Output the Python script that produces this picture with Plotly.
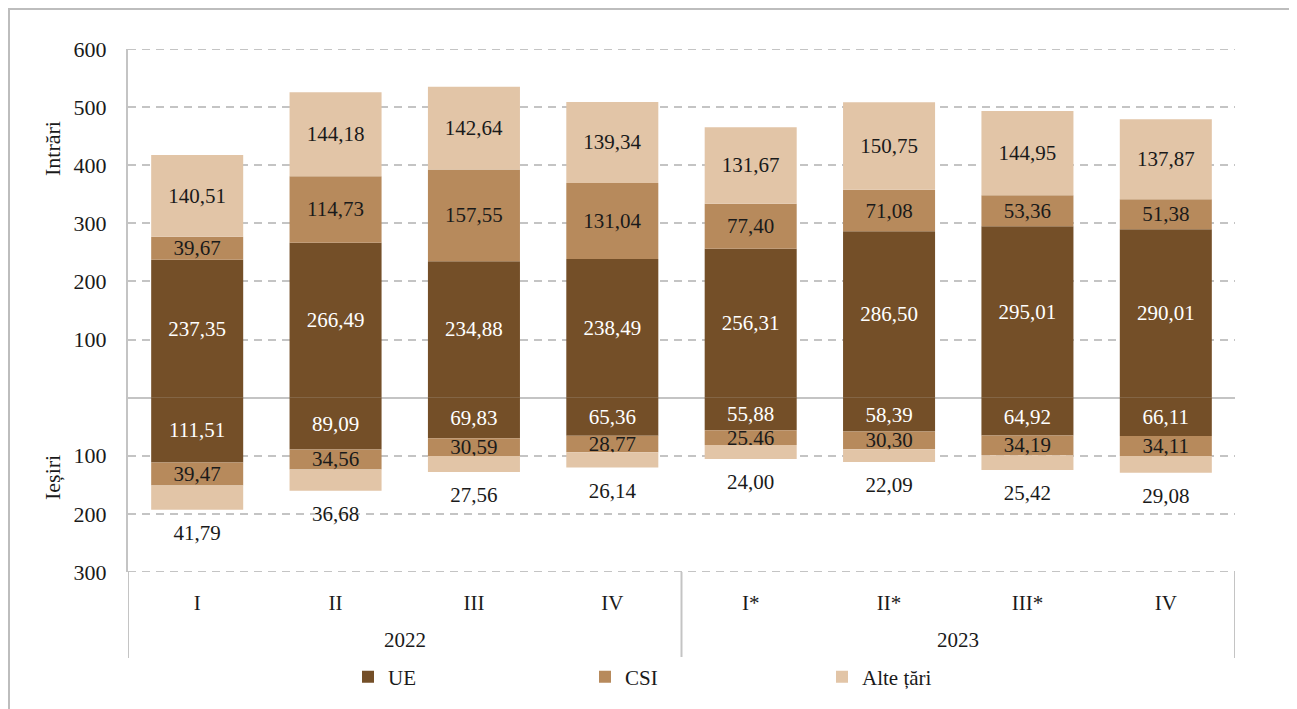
import plotly.graph_objects as go

years = ["2022", "2023"]
year_of_quarter = ["2022"] * 4 + ["2023"] * 4
quarters = ["I", "II", "III", "IV", "I*", "II*", "III*", "IV"]

ue_in = [237.35, 266.49, 234.88, 238.49, 256.31, 286.50, 295.01, 290.01]
csi_in = [39.67, 114.73, 157.55, 131.04, 77.40, 71.08, 53.36, 51.38]
alte_in = [140.51, 144.18, 142.64, 139.34, 131.67, 150.75, 144.95, 137.87]
ue_out = [111.51, 89.09, 69.83, 65.36, 55.88, 58.39, 64.92, 66.11]
csi_out = [39.47, 34.56, 30.59, 28.77, 25.46, 30.30, 34.19, 34.11]
alte_out = [41.79, 36.68, 27.56, 26.14, 24.00, 22.09, 25.42, 29.08]

y_range = [-300, 600]
tick_vals = [-300, -200, -100, 100, 200, 300, 400, 500, 600]
tick_text = ["300", "200", "100", "100", "200", "300", "400", "500", "600"]

C_UE = "#744f28"
C_CSI = "#b78a5c"
C_ALTE = "#e2c5a7"
GRID = "#c4c4c4"
FRAME = "#bdbdbd"
FONT = "Liberation Serif"
TXT = "#1a1a1a"
LBL = 21
DASH = "8px,6px"

def fmt(v):
    return f"{v:.2f}".replace(".", ",")

xpos = list(range(len(quarters)))
fig = go.Figure()

def add_bar(vals, sign, color, name, tcolor, showlegend, text=True):
    fig.add_trace(go.Bar(
        x=xpos, y=[sign * v for v in vals], name=name, marker_color=color,
        marker_line_width=0, showlegend=showlegend, legendgroup=name,
        text=[fmt(v) for v in vals] if text else None,
        textposition="inside" if text else "none",
        insidetextanchor="middle",
        textfont=dict(family=FONT, size=LBL, color=tcolor),
        hoverinfo="skip",
    ))

add_bar(ue_in, 1, C_UE, "UE", "white", True)
add_bar(csi_in, 1, C_CSI, "CSI", TXT, True)
add_bar(alte_in, 1, C_ALTE, "Alte țări", TXT, True)
add_bar(ue_out, -1, C_UE, "UE", "white", False)
add_bar(csi_out, -1, C_CSI, "CSI", TXT, False)
add_bar(alte_out, -1, C_ALTE, "Alte țări", TXT, False, text=False)

out_tot = [a + b + c for a, b, c in zip(ue_out, csi_out, alte_out)]
fig.add_trace(go.Scatter(
    x=xpos, y=[-(t + 43) for t in out_tot], mode="text",
    text=[fmt(v) for v in alte_out], textposition="middle center",
    textfont=dict(family=FONT, size=LBL, color=TXT),
    showlegend=False, hoverinfo="skip", cliponaxis=False,
))

# page body has an 8px margin; figure coordinates = screen - 8
W, H = 1289, 701
L, R, T, B = 120, 62, 41, 137
pw, ph = W - L - R, H - T - B

def px_x(p):
    return (p - L) / pw

def px_y(p):
    return (H - B - p) / ph

shapes = [
    dict(type="line", xref="paper", yref="paper", x0=px_x(0), x1=px_x(W), y0=px_y(1), y1=px_y(1),
         line=dict(color=FRAME, width=2)),
    dict(type="line", xref="paper", yref="paper", x0=px_x(1), x1=px_x(1), y0=px_y(1), y1=px_y(H),
         line=dict(color=FRAME, width=2)),
    dict(type="line", xref="paper", yref="paper", x0=px_x(1282), x1=px_x(1282), y0=px_y(1), y1=px_y(H),
         line=dict(color=FRAME, width=2)),
]
# gridlines at the two range ends (plotly omits them at the plot edge)
for yv in y_range:
    shapes.append(dict(type="line", xref="paper", yref="y", x0=0, x1=1, y0=yv, y1=yv,
                       line=dict(color=GRID, width=2, dash=DASH), layer="below"))
# group dividers below the x axis
for xv in [-0.5, 3.5, 7.5]:
    shapes.append(dict(type="line", xref="x", yref="paper", x0=xv, x1=xv, y0=0, y1=px_y(650),
                       line=dict(color=GRID, width=2)))

annotations = [
    dict(text="Intrări", xref="paper", yref="paper", x=px_x(44), y=px_y(141), textangle=-90,
         xanchor="center", yanchor="middle",
         showarrow=False, font=dict(family=FONT, size=22, color=TXT)),
    dict(text="Ieșiri", xref="paper", yref="paper", x=px_x(44), y=px_y(470), textangle=-90,
         xanchor="center", yanchor="middle",
         showarrow=False, font=dict(family=FONT, size=22, color=TXT)),
]
for i, yr in enumerate(years):
    idx = [k for k, q in enumerate(year_of_quarter) if q == yr]
    annotations.append(dict(text=yr, xref="x", yref="paper", x=sum(idx) / len(idx), y=px_y(632),
                            xanchor="center", yanchor="middle",
                            showarrow=False, font=dict(family=FONT, size=21, color=TXT)))

fig.update_layout(
    width=W, height=H,
    margin=dict(l=L, r=R, t=T, b=B),
    barmode="relative", bargap=0.335,
    plot_bgcolor="white", paper_bgcolor="white",
    font=dict(family=FONT, size=LBL, color=TXT),
    uniformtext=dict(minsize=LBL, mode="show"),
    shapes=shapes, annotations=annotations,
    legend=dict(orientation="h", x=px_x(340), y=px_y(669), xanchor="left", yanchor="middle",
                entrywidth=192, font=dict(family=FONT, size=21, color=TXT),
                traceorder="normal", itemwidth=30),
)
fig.update_yaxes(
    range=y_range, tickvals=tick_vals, ticktext=tick_text,
    showgrid=True, gridcolor=GRID, gridwidth=2, griddash=DASH,
    zeroline=True, zerolinecolor=GRID, zerolinewidth=2,
    showline=True, linecolor=GRID, linewidth=2,
    ticks="", ticklabelstandoff=15,
    tickfont=dict(family=FONT, size=22, color=TXT),
)
fig.update_xaxes(
    range=[-0.5, 7.5], tickvals=xpos, ticktext=quarters,
    showline=False, showgrid=False, zeroline=False, ticks="", ticklabelstandoff=16,
    tickfont=dict(family=FONT, size=21, color=TXT),
)

fig.write_html("out.html")
